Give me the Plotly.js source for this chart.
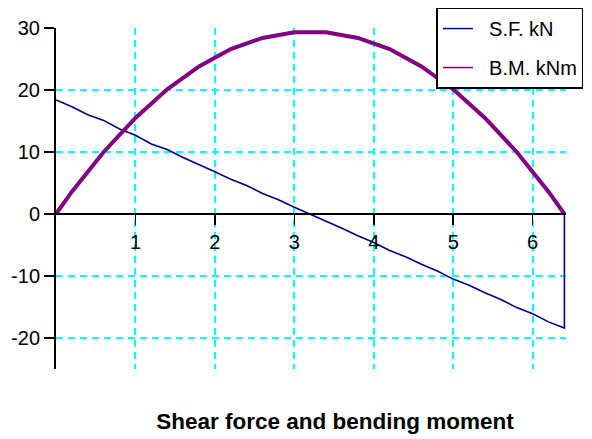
<!DOCTYPE html>
<html>
<head>
<meta charset="utf-8">
<script src="https://cdn.plot.ly/plotly-3.0.1.min.js"></script>
<style>
  html, body { margin: 0; padding: 0; background: #ffffff; }
  #chart { width: 592px; height: 439px; }
</style>
</head>
<body>
<div id="chart"></div>
<script>
// Shear force along the beam (kN), sampled every 0.2 m, with the drop back to zero at the right support
var sfX = [0, 0.2, 0.4, 0.6, 0.8, 1.0, 1.2, 1.4, 1.6, 1.8, 2.0, 2.2, 2.4, 2.6, 2.8, 3.0, 3.2,
           3.4, 3.6, 3.8, 4.0, 4.2, 4.4, 4.6, 4.8, 5.0, 5.2, 5.4, 5.6, 5.8, 6.0, 6.2, 6.4, 6.4];
var sfY = [18.4, 17.3, 16.0, 15.1, 13.7, 12.7, 11.3, 10.4, 9.1, 8.0, 6.8, 5.6, 4.6, 3.3, 2.3, 1.1, 0.0,
           -1.2, -2.3, -3.5, -4.6, -5.9, -6.9, -8.1, -9.2, -10.5, -11.5, -12.7, -13.8, -15.1, -16.1, -17.4, -18.4, 0];

// Bending moment along the beam (kNm)
var bmX = [0, 0.2, 0.6, 1.0, 1.4, 1.8, 2.2, 2.6, 3.0, 3.4, 3.8, 4.2, 4.6, 5.0, 5.4, 5.8, 6.2, 6.4];
var bmY = [0, 3.6, 10.0, 15.5, 20.1, 23.8, 26.6, 28.4, 29.3, 29.3, 28.4, 26.6, 23.8, 20.1, 15.5, 10.0, 3.6, 0];

var xTicks = [1, 2, 3, 4, 5, 6];
var yTicks = [-20, -10, 0, 10, 20, 30];

var seriesNames = ['S.F. kN', 'B.M. kNm'];
var seriesColors = ['#000080', '#800080'];

var font = 'Liberation Sans, Arial, sans-serif';
var pad = '\u00a0\u00a0';

var traces = [
  { x: sfX, y: sfY, mode: 'lines', line: { color: seriesColors[0], width: 1.6 },
    showlegend: false, hoverinfo: 'skip' },
  { x: bmX, y: bmY, mode: 'lines', line: { color: seriesColors[1], width: 4 },
    showlegend: false, hoverinfo: 'skip' },
  // thin legend keys
  { x: [null], y: [null], mode: 'lines', name: pad + seriesNames[0], legendgroup: 'a',
    line: { color: seriesColors[0], width: 1.5 } },
  { x: [null], y: [null], mode: 'lines', name: pad + seriesNames[1], legendgroup: 'b',
    line: { color: seriesColors[1], width: 1.5 } }
];

var layout = {
  width: 592, height: 439,
  margin: { l: 56, r: 26, t: 28, b: 70, pad: 0, autoexpand: false },
  paper_bgcolor: '#ffffff', plot_bgcolor: '#ffffff',
  font: { family: font, size: 20, color: '#000000' },
  showlegend: true,
  legend: {
    x: 0.746, xanchor: 'left', y: 1.06, yanchor: 'top',
    bgcolor: '#ffffff', bordercolor: '#000000', borderwidth: 1.5,
    font: { family: font, size: 20, color: '#000000' },
    traceorder: 'grouped', tracegroupgap: 10
  },
  title: {
    text: '<b>Shear force and bending moment</b>',
    font: { family: font, size: 22.5, color: '#000000' },
    xref: 'container', x: 0.566, xanchor: 'center',
    yref: 'container', y: 0.04, yanchor: 'middle'
  },
  xaxis: {
    range: [0, 6.42], anchor: 'free', position: 25 / 55,
    tickvals: xTicks, ticktext: xTicks.map(String),
    tickfont: { family: font, size: 20, color: '#000000' },
    ticks: 'outside', ticklen: 10, tickwidth: 1.5, tickcolor: '#000000',
    showline: true, linecolor: '#000000', linewidth: 2,
    showgrid: true, gridcolor: '#00ffff', gridwidth: 2, griddash: '7px,5px',
    zeroline: false, fixedrange: true
  },
  yaxis: {
    range: [-25, 30],
    tickvals: yTicks, ticktext: yTicks.map(String),
    tickfont: { family: font, size: 20, color: '#000000' },
    ticks: 'outside', ticklen: 10, tickwidth: 1.5, tickcolor: '#000000',
    showline: true, linecolor: '#000000', linewidth: 2,
    showgrid: true, gridcolor: '#00ffff', gridwidth: 2, griddash: '7px,5px',
    zeroline: false, fixedrange: true
  }
};

Plotly.newPlot('chart', traces, layout, { staticPlot: true, displayModeBar: false });
</script>
</body>
</html>
